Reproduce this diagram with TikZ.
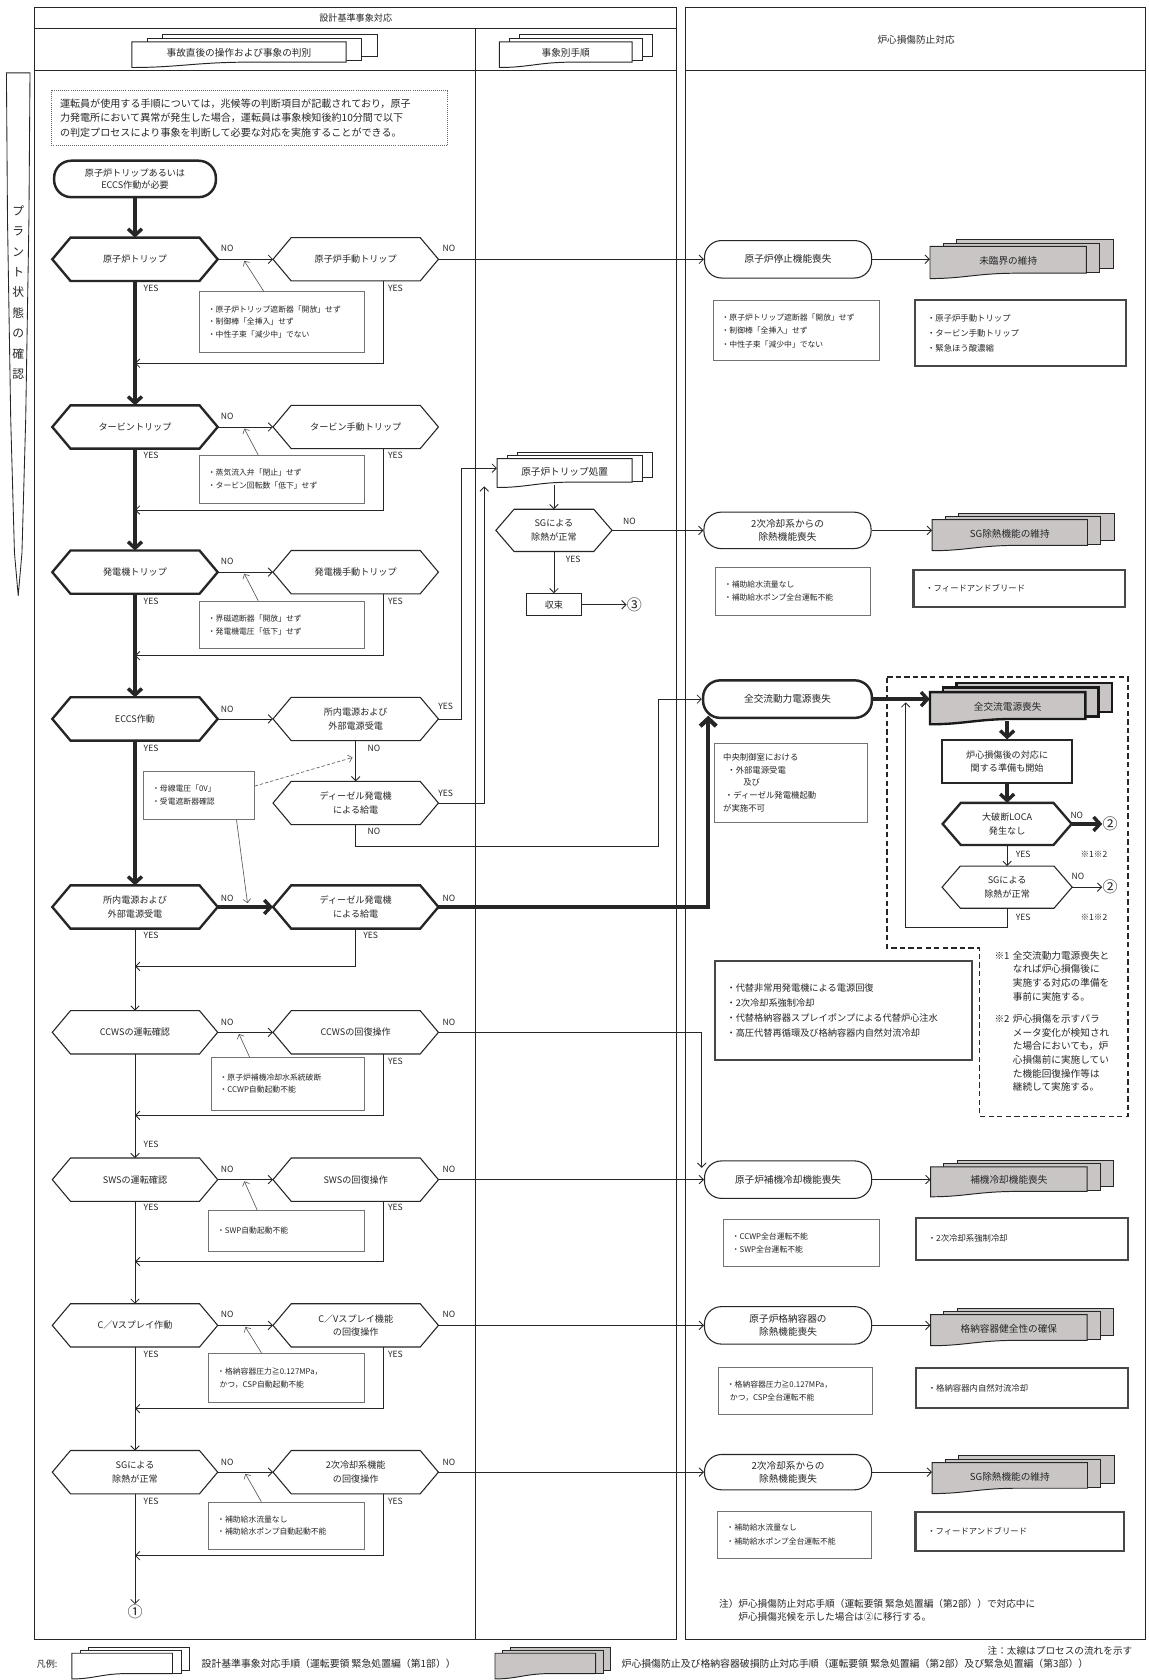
\documentclass[tikz,border=0pt]{standalone}
\usepackage{fontspec}
\setmainfont{Noto Sans CJK JP}
\usetikzlibrary{arrows.meta,calc}
\definecolor{docgray}{RGB}{201,197,197}
\newcommand\fsz[2]{\fontsize{#1}{#2}\selectfont}
\newcommand\hexd[6]{%
  \node[hexn,#4] (#1) at (#2,#3) {#6};
  \draw[#5] (#1.west) -- ([xshift=17pt]#1.north west) -- ([xshift=-17pt]#1.north east)
    -- (#1.east) -- ([xshift=-17pt]#1.south east) -- ([xshift=17pt]#1.south west) -- cycle;}
\newcommand\docstack[9]{%
  \foreach \k in {2,1}{%
    \draw[#8] ({#2+\k*#6},{#3-\k*#7}) rectangle ({#2+#4+\k*#6},{#3+#5-\k*#7});}
  \draw[#8] (#2,#3) -- ({#2+#4},#3) -- ({#2+#4},{#3+#5-2})
    -- ({#2+0.55*#4},{#3+#5-2}) .. controls ({#2+0.3*#4},{#3+#5-2}) and ({#2+0.22*#4},{#3+#5+3}) .. (#2,{#3+#5+3}) -- cycle;
  \node[docn, minimum width=#4pt, minimum height=#5pt] (#1) at ({#2+#4/2},{#3+#5/2}) {#9};}
\begin{document}
\begin{tikzpicture}[x=1pt,y=-1pt,
  every node/.append style={text=black!85},
  hexn/.style={minimum width=154pt, minimum height=40pt, inner sep=0pt, align=center, font=\fsz{8.5}{12.4}},
  hexthick/.style={draw=black!85, line width=2.2pt},
  hexthin/.style={draw=black!85, line width=1pt},
  termbox/.style={draw=black!85, line width=1pt, rounded corners=16pt, minimum width=156pt, minimum height=35pt, inner sep=1pt, align=center, font=\fsz{9}{12.5}},
  termbold/.style={termbox, line width=2.3pt},
  notebox/.style={draw=black!55, line width=0.7pt, inner xsep=8pt, inner ysep=2pt, align=left, font=\fsz{7.3}{11.7}},
  rnotebox/.style={notebox, font=\fsz{7.3}{12.3}},
  thickbox/.style={draw=black!72, line width=2pt, inner xsep=11pt, inner ysep=2pt, align=left, font=\fsz{7.8}{14}},
  flowln/.style={draw=black!85, line width=0.8pt, -{Straight Barb[length=4pt,width=8pt]}},
  flowbold/.style={draw=black!85, line width=3.2pt, -{Straight Barb[length=6pt,width=13pt]}},
  flowbolder/.style={draw=black!85, line width=4pt, -{Straight Barb[length=7pt,width=15pt]}},
  ptrln/.style={draw=black!65, line width=0.6pt, -{Straight Barb[length=3.5pt,width=7pt]}},
  ynlab/.style={font=\fsz{8}{9}, inner sep=0pt},
  docw/.style={draw=black!85, line width=0.9pt, fill=white},
  docg/.style={draw=black!85, line width=0.9pt, fill=docgray},
  docgk/.style={draw=black!90, line width=2.2pt, fill=docgray},
  docn/.style={inner sep=0pt, font=\fsz{9}{12}},
  circnum/.style={inner sep=0pt, font=\fsz{14}{14}},
  panelln/.style={draw=black!85, line width=1pt},
]
\fill[white] (0,0) rectangle (1072,1568);
\useasboundingbox (0,0) rectangle (1072,1568);

% ---------- panels ----------
\draw[panelln] (32,7) rectangle (631,1530);
\draw[panelln] (32,27) -- (631,27);
\draw[panelln] (32,66) -- (631,66);
\draw[panelln, line width=0.8pt] (443.75,27) -- (443.75,1530);
\draw[panelln] (640,7) rectangle (1069,1530);
\draw[panelln] (640,66) -- (1069,66);
\node[font=\fsz{8.5}{10}] (hdL) at (332,17) {設計基準事象対応};
\node[font=\fsz{9}{10}] (hdR) at (855,37) {炉心損傷防止対応};
\docstack{hdA}{123}{39}{200}{21}{14.5}{3.5}{docw}{事故直後の操作および事象の判別}
\docstack{hdB}{466}{39}{124}{21}{9.5}{3.5}{docw}{事象別手順}

% ---------- vertical label ----------
\draw[draw=black!85, line width=0.8pt] (6,68) -- (28,68) -- (27,205) -- (24,391) -- (20.5,516) -- (17,556) -- (13.5,516) -- (10,391) -- (7,205) -- cycle;
\node[align=center, font=\fsz{11}{19}, inner sep=0pt] (vlab) at (17,273) {プ\\ラ\\ン\\ト\\状\\態\\の\\確\\認};

% ---------- intro note ----------
\node[draw=black!60, densely dotted, line width=0.9pt, text width=354pt, minimum height=52pt, inner xsep=8pt, align=left, font=\fsz{9.4}{13.5}] (intro) at (233,110)
 {運転員が使用する手順については，兆候等の判断項目が記載されており，原子\\力発電所において異常が発生した場合，運転員は事象検知後約10分間で以下\\の判定プロセスにより事象を判断して必要な対応を実施することができる。};

% ---------- left column ----------
\node[termbold, minimum width=151pt, minimum height=34pt, font=\fsz{8.5}{11.8}] (start) at (126,167) {原子炉トリップあるいは\\ECCS作動が必要};

\hexd{h1a}{126}{242}{}{hexthick}{原子炉トリップ}
\hexd{h1b}{332}{242}{}{hexthin}{原子炉手動トリップ}
\hexd{h2a}{126}{398.5}{}{hexthick}{タービントリップ}
\hexd{h2b}{332}{398.5}{}{hexthin}{タービン手動トリップ}
\hexd{h3a}{126}{534}{}{hexthick}{発電機トリップ}
\hexd{h3b}{332}{534}{}{hexthin}{発電機手動トリップ}
\hexd{h4a}{126}{671}{}{hexthick}{ECCS作動}
\hexd{h4b}{332}{671}{}{hexthin}{所内電源および\\外部電源受電}
\hexd{h4c}{332}{749.5}{}{hexthin}{ディーゼル発電機\\による給電}
\hexd{h5a}{126}{846.5}{}{hexthick}{所内電源および\\外部電源受電}
\hexd{h5b}{332}{846.5}{}{hexthick}{ディーゼル発電機\\による給電}
\hexd{h6a}{126}{963.5}{}{hexthin}{CCWSの運転確認}
\hexd{h6b}{332}{963.5}{}{hexthin}{CCWSの回復操作}
\hexd{h7a}{126}{1101}{}{hexthin}{SWSの運転確認}
\hexd{h7b}{332}{1101}{}{hexthin}{SWSの回復操作}
\hexd{h8a}{126}{1237}{}{hexthin}{C／Vスプレイ作動}
\hexd{h8b}{332}{1237}{}{hexthin}{C／Vスプレイ機能\\の回復操作}
\hexd{h9a}{126}{1374}{}{hexthin}{SGによる\\除熱が正常}
\hexd{h9b}{332}{1374}{}{hexthin}{2次冷却系機能\\の回復操作}
\node[circnum] (one) at (126,1504) {①};

% notes (left)
\node[notebox, text width=138pt, minimum height=56.5pt] (N1) at (263,300.25) {・原子炉トリップ遮断器「開放」せず\\・制御棒「全挿入」せず\\・中性子束「減少中」でない};
\node[notebox, text width=138pt, minimum height=44.5pt] (N2) at (263,447.25) {・蒸気流入弁「閉止」せず\\・タービン回転数「低下」せず};
\node[notebox, text width=138pt, minimum height=44.5pt] (N3) at (263,583.25) {・界磁遮断器「開放」せず\\・発電機電圧「低下」せず};
\node[notebox, text width=87.5pt, minimum height=45.5pt] (N4) at (185.75,742.25) {・母線電圧「0V」\\・受電遮断器確認};
\node[notebox, text width=127pt, minimum height=49pt] (N5) at (268.5,1011.5) {・原子炉補機冷却水系統破断\\・CCWP自動起動不能};
\node[notebox, text width=129.4pt, minimum height=38.4pt] (N6) at (267.3,1148.8) {・SWP自動起動不能};
\node[notebox, text width=129pt, minimum height=46pt] (N7) at (267.25,1286) {・格納容器圧力≧0.127MPa，\\\hspace*{0.3em}かつ，CSP自動起動不能};
\node[notebox, text width=129pt, minimum height=44pt] (N8) at (267.25,1424) {・補助給水流量なし\\・補助給水ポンプ自動起動不能};

% main flow
\draw[flowbold] (start.south) -- (h1a.north);
\draw[flowbold] (h1a.south) -- (h2a.north);
\draw[flowbold] (h2a.south) -- (h3a.north);
\draw[flowbold] (h3a.south) -- (h4a.north);
\draw[flowbold] (h4a.south) -- (h5a.north);
\draw[flowln] (h5a.south) -- (h6a.north);
\draw[flowln] (h6a.south) -- (h7a.north);
\draw[flowln] (h7a.south) -- (h8a.north);
\draw[flowln] (h8a.south) -- (h9a.north);
\draw[flowln] (h9a.south) -- (one.north);

% NO arrows
\draw[flowln] (h1a.east) -- (h1b.west);
\draw[flowln] (h2a.east) -- (h2b.west);
\draw[flowln] (h3a.east) -- (h3b.west);
\draw[flowln] (h4a.east) -- (h4b.west);
\draw[flowbold] (h5a.east) -- (h5b.west);
\draw[flowln] (h6a.east) -- (h6b.west);
\draw[flowln] (h7a.east) -- (h7b.west);
\draw[flowln] (h8a.east) -- (h8b.west);
\draw[flowln] (h9a.east) -- (h9b.west);
\draw[flowln] (h4b.south) -- (h4c.north);

% YES returns
\coordinate (r1) at (358,339);
\coordinate (r2) at (358,476);
\coordinate (r3) at (358,612);
\coordinate (r5) at (332,902);
\coordinate (r6) at (358,1041);
\coordinate (r7) at (358,1177.5);
\coordinate (r8) at (358,1314.7);
\coordinate (r9) at (358,1452);
\draw[flowln] (h1b.south -| r1) -- (r1) -- (r1 -| h1a.south);
\draw[flowln] (h2b.south -| r2) -- (r2) -- (r2 -| h2a.south);
\draw[flowln] (h3b.south -| r3) -- (r3) -- (r3 -| h3a.south);
\draw[flowln] (h5b.south) -- (r5) -- (r5 -| h5a.south);
\draw[flowln] (h6b.south -| r6) -- (r6) -- (r6 -| h6a.south);
\draw[flowln] (h7b.south -| r7) -- (r7) -- (r7 -| h7a.south);
\draw[flowln] (h8b.south -| r8) -- (r8) -- (r8 -| h8a.south);
\draw[flowln] (h9b.south -| r9) -- (r9) -- (r9 -| h9a.south);

% pointers
\coordinate (q1) at (228,243.5);
\coordinate (q2) at (228,400);
\coordinate (q3) at (228,535.5);
\coordinate (q4a) at (329,707);
\coordinate (q4b) at (231,843);
\coordinate (q5) at (223,965);
\coordinate (q6) at (228,1102.5);
\coordinate (q7) at (229,1238.5);
\coordinate (q8) at (229,1375.5);
\draw[ptrln] ([xshift=-17pt]N1.north) -- (q1);
\draw[ptrln] ([xshift=-22pt]N2.north) -- (q2);
\draw[ptrln] ([xshift=-22pt]N3.north) -- (q3);
\draw[ptrln, densely dashed] ([yshift=-14.5pt]N4.north east) -- (q4a);
\draw[ptrln] ([xshift=35pt]N4.south) -- (q4b);
\draw[ptrln] ([xshift=-35.5pt]N5.north) -- (q5);
\draw[ptrln] ([xshift=-27.3pt]N6.north) -- (q6);
\draw[ptrln] ([xshift=-23.25pt]N7.north) -- (q7);
\draw[ptrln] ([xshift=-23.25pt]N8.north) -- (q8);

% YES / NO labels (left)
\node[ynlab] (nA1) at (212,232) {NO};
\node[ynlab] (nA2) at (212,388.5) {NO};
\node[ynlab] (nA3) at (212,524) {NO};
\node[ynlab] (nA4) at (212,662) {NO};
\node[ynlab] (nA5) at (212,838) {NO};
\node[ynlab] (nA6) at (212,954) {NO};
\node[ynlab] (nA7) at (212,1091) {NO};
\node[ynlab] (nA8) at (212,1227) {NO};
\node[ynlab] (nA9) at (212,1364.5) {NO};
\node[ynlab] (nB1) at (419,232) {NO};
\node[ynlab] (nB5) at (419,838) {NO};
\node[ynlab] (nB6) at (419,954) {NO};
\node[ynlab] (nB7) at (419,1091) {NO};
\node[ynlab] (nB8) at (419,1227) {NO};
\node[ynlab] (nB9) at (419,1364.5) {NO};
\node[ynlab] (nC1) at (349,698) {NO};
\node[ynlab] (nC2) at (349,776) {NO};
\node[ynlab] (yA1) at (141,269) {YES};
\node[ynlab] (yA2) at (141,425) {YES};
\node[ynlab] (yA3) at (141,561) {YES};
\node[ynlab] (yA4) at (141,698) {YES};
\node[ynlab] (yA5) at (141,873) {YES};
\node[ynlab] (yA6) at (141,1068) {YES};
\node[ynlab] (yA7) at (141,1127) {YES};
\node[ynlab] (yA8) at (141,1264) {YES};
\node[ynlab] (yA9) at (141,1401) {YES};
\node[ynlab] (yB1) at (369,269) {YES};
\node[ynlab] (yB2) at (369,425) {YES};
\node[ynlab] (yB3) at (369,561) {YES};
\node[ynlab] (yB5) at (346,873) {YES};
\node[ynlab] (yB6) at (369,990.6) {YES};
\node[ynlab] (yB7) at (369,1127) {YES};
\node[ynlab] (yB8) at (369,1264) {YES};
\node[ynlab] (yB9) at (369,1401) {YES};
\node[ynlab] (yC1) at (416,659) {YES};
\node[ynlab] (yC2) at (416,740) {YES};

% ---------- middle column ----------
\docstack{TDoc}{464}{428}{126}{24}{9.7}{3}{docw}{原子炉トリップ処置}
\hexd{SGm}{517}{495}{minimum width=108pt, minimum height=39pt}{hexthin}{SGによる\\除熱が正常}
\node[draw=black!85, line width=1pt, minimum width=52pt, minimum height=20.5pt, inner sep=0pt, font=\fsz{8.5}{10}] (conv) at (517,564.5) {収束};
\node[circnum] (c3) at (592,564.5) {③};
\draw[flowln] (SGm.north |- TDoc.south) -- (SGm.north);
\draw[flowln] (SGm.south) -- (conv.north);
\draw[flowln] (conv.east) -- (c3.west);
\node[ynlab] (nM) at (587.5,486.5) {NO};
\node[ynlab] (yM) at (535,522.5) {YES};
\coordinate (j1) at (431,437);
\coordinate (j2) at (452,454);
\draw[flowln] (h4b.east) -| (j1) -- (j1 -| TDoc.west);
\draw[flowln] (h4c.east) -| (j2);

% ---------- right panel ----------
\node[termbox] (T1) at (735.5,242) {原子炉停止機能喪失};
\docstack{D1}{868}{230}{146}{27}{12.4}{3.1}{docg}{未臨界の維持}
\node[rnotebox, text width=139.5pt, minimum height=56pt] (RN1) at (743.25,308.8) {・原子炉トリップ遮断器「開放」せず\\・制御棒「全挿入」せず\\・中性子束「減少中」でない};
\node[thickbox, text width=175pt, minimum height=61.5pt] (TB1) at (952.75,310.75) {・原子炉手動トリップ\\・タービン手動トリップ\\・緊急ほう酸濃縮};

\node[termbox, minimum height=34pt] (TSG1) at (735,495) {2次冷却系からの\\除熱機能喪失};
\docstack{D2}{870}{485}{145}{26}{12.4}{3.1}{docg}{SG除熱機能の維持}
\node[rnotebox, text width=128.5pt, minimum height=44pt] (RN2) at (740,552) {・補助給水流量なし\\・補助給水ポンプ全台運転不能};
\node[thickbox, text width=175.7pt, minimum height=35pt] (TB2) at (951.5,549.2) {・フィードアンドブリード};

\draw[draw=black!85, line width=1.3pt, dash pattern=on 5pt off 3pt] (828,632) -- (1052.8,632) -- (1052.8,1042) -- (914.4,1042) -- (914.4,884.8) -- (828,884.8) -- cycle;
\node[termbold, minimum width=157.6pt] (TACP) at (735,652.5) {全交流動力電源喪失};
\docstack{DACP}{868}{646}{145}{27}{12.4}{4.3}{docgk}{全交流電源喪失}
\node[draw=black!85, line width=1.8pt, minimum width=121pt, minimum height=40pt, inner sep=1pt, align=center, font=\fsz{8.5}{12.4}] (prep) at (940,711) {炉心損傷後の対応に\\関する準備も開始};
\hexd{LOCA}{940}{769}{minimum width=120pt, minimum height=39pt}{hexthick}{大破断LOCA\\発生なし}
\hexd{SGr}{940}{828}{minimum width=121pt, minimum height=39pt}{hexthin}{SGによる\\除熱が正常}
\node[circnum] (c2a) at (1036,769) {②};
\node[circnum] (c2b) at (1036,828) {②};
\node[ynlab] (nR1) at (1005,761) {NO};
\node[ynlab] (yR1) at (955,797) {YES};
\node[ynlab] (sR1) at (1021,797) {※1※2};
\node[ynlab] (nR2) at (1006,818) {NO};
\node[ynlab] (yR2) at (955,856) {YES};
\node[ynlab] (sR2) at (1021,856) {※1※2};
\node[rnotebox, font=\fsz{7.8}{12}, text width=127pt, minimum height=74pt] (RN3) at (738.5,730.5) {中央制御室における\\\hspace*{0.5em}・外部電源受電\\\hspace*{2.4em}及び\\\hspace*{0.2em}・ディーゼル発電機起動\\が実施不可};
\node[thickbox, font=\fsz{8.6}{14}, text width=218.4pt, minimum height=91.7pt] (TB3) at (787.3,943.15) {・代替非常用発電機による電源回復\\・2次冷却系強制冷却\\・代替格納容器スプレイポンプによる代替炉心注水\\・高圧代替再循環及び格納容器内自然対流冷却};
\node[anchor=north west, inner sep=0pt, font=\fsz{9}{12.8}] (s1) at (928,886) {\begin{tabular}{@{}l@{\hspace{0.35em}}l@{}}※1 & 全交流動力電源喪失と\\ & なれば炉心損傷後に\\ & 実施する対応の準備を\\ & 事前に実施する。\end{tabular}};
\node[anchor=north west, inner sep=0pt, font=\fsz{9}{12.8}] (s2) at (928,945) {\begin{tabular}{@{}l@{\hspace{0.35em}}l@{}}※2 & 炉心損傷を示すパラ\\ & メータ変化が検知され\\ & た場合においても，炉\\ & 心損傷前に実施してい\\ & た機能回復操作等は\\ & 継続して実施する。\end{tabular}};

\node[termbox] (TCool) at (735.5,1101) {原子炉補機冷却機能喪失};
\docstack{DCool}{868.6}{1089}{146}{25}{12.4}{3.1}{docg}{補機冷却機能喪失}
\node[rnotebox, text width=130pt, minimum height=44.2pt] (RN4) at (748,1159.8) {・CCWP全台運転不能\\・SWP全台運転不能};
\node[thickbox, text width=175.5pt, minimum height=39pt] (TB4) at (953.75,1156.15) {・2次冷却系強制冷却};

\node[termbox] (TCV) at (735.5,1237) {原子炉格納容器の\\除熱機能喪失};
\docstack{DCV}{868.6}{1227}{146}{26}{12.4}{3.1}{docg}{格納容器健全性の確保}
\node[rnotebox, text width=128pt, minimum height=44.5pt] (RN5) at (742.4,1298) {・格納容器圧力≧0.127MPa，\\\hspace*{0.4em}かつ，CSP全台運転不能};
\node[thickbox, text width=175.5pt, minimum height=37.4pt] (TB5) at (953.75,1295.3) {・格納容器内自然対流冷却};

\node[termbox, minimum height=33pt] (TSG2) at (735.5,1374) {2次冷却系からの\\除熱機能喪失};
\docstack{DSG2}{870}{1365}{145}{26}{12.4}{3.1}{docg}{SG除熱機能の維持}
\node[rnotebox, text width=127pt, minimum height=43.6pt] (RN6) at (741.5,1432.2) {・補助給水流量なし\\・補助給水ポンプ全台運転不能};
\node[thickbox, text width=172.9pt, minimum height=36.4pt] (TB6) at (951.95,1429.5) {・フィードアンドブリード};

\node[anchor=north west, inner sep=0pt, align=left, font=\fsz{9}{12.5}] (foot) at (671,1492) {注）炉心損傷防止対応手順（運転要領 緊急処置編（第2部））で対応中に\\\hspace*{2em}炉心損傷兆候を示した場合は②に移行する。};

% right panel connectors
\draw[flowln] (h1b.east) -- (T1.west);
\draw[flowln] (SGm.east) -- (TSG1.west);
\draw[flowln] (h7b.east) -- (TCool.west);
\draw[flowln] (h8b.east) -- (TCV.west);
\draw[flowln] (h9b.east) -- (TSG2.west);
\coordinate (j3) at (655,1090);
\draw[flowln] (h6b.east) -| (j3);
\coordinate (a2) at (614.6,790);
\draw[flowln] (h4c.south) |- (a2) |- (TACP.west);
\coordinate (k1) at (661,846.5);
\coordinate (k2) at (661,668);
\draw[flowbolder] (h5b.east) -- (k1) -- (k2);

\draw[flowln] (T1.east) -- (T1.east -| D1.west);
\draw[flowln] (TSG1.east) -- (TSG1.east -| D2.west);
\draw[flowbold] (TACP.east) -- (TACP.east -| DACP.west);
\draw[flowln] (TCool.east) -- (TCool.east -| DCool.west);
\draw[flowln] (TCV.east) -- (TCV.east -| DCV.west);
\draw[flowln] (TSG2.east) -- (TSG2.east -| DSG2.west);
\draw[flowbold] (prep.north |- DACP.south) -- (prep.north);
\draw[flowbold] (prep.south) -- (LOCA.north);
\draw[flowbold] (LOCA.east) -- (c2a.west);
\draw[flowln] (LOCA.south) -- (SGr.north);
\draw[flowln] (SGr.east) -- (c2b.west);
\coordinate (lp1) at (845.3,866);
\coordinate (lp2) at (845.3,655.5);
\draw[flowln] (SGr.south) |- (lp1) -- (lp2);

% ---------- legend ----------
\node[anchor=east, inner sep=0pt, font=\fsz{9}{10}] (ntk) at (1057,1541) {注：太線はプロセスの流れを示す};
\node[anchor=west, inner sep=0pt, font=\fsz{8.5}{10}] (lgA) at (34,1553) {凡例:};
\docstack{lgD1}{67}{1543}{94}{21}{8}{2.5}{docw}{}
\node[anchor=west, inner sep=0pt, font=\fsz{9.2}{10}] (lgT1) at (188,1553) {設計基準事象対応手順（運転要領 緊急処置編（第1部））};
\docstack{lgD2}{462}{1543}{94}{21}{7}{2.5}{docg}{}
\node[anchor=west, inner sep=0pt, font=\fsz{9.2}{10}] (lgT2) at (580,1553) {炉心損傷防止及び格納容器破損防止対応手順（運転要領 緊急処置編（第2部）及び緊急処置編（第3部））};
\end{tikzpicture}
\end{document}
